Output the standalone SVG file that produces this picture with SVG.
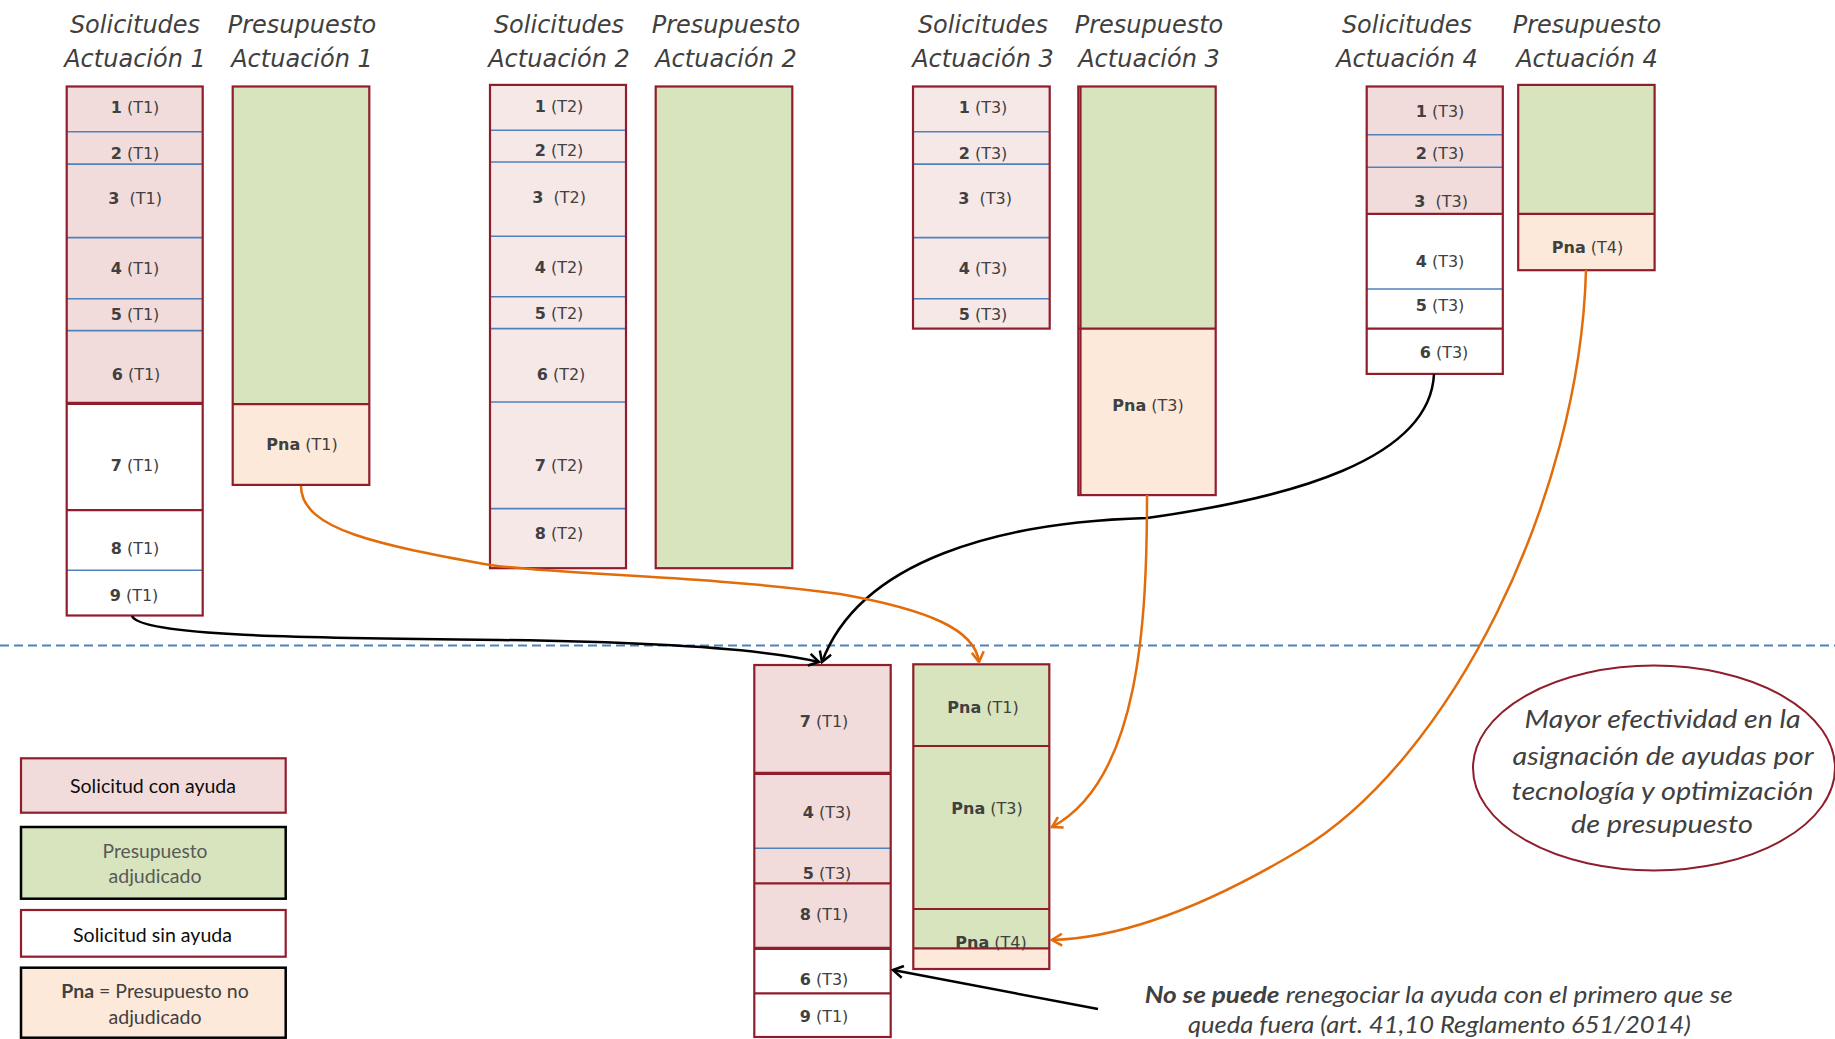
<svg xmlns="http://www.w3.org/2000/svg" width="1835" height="1039" viewBox="0 0 1835 1039">
<style>
.hdr{font-family:"DejaVu Sans",sans-serif;font-style:italic;font-size:24px;fill:#404040;text-anchor:middle}
.lbl{font-family:"DejaVu Sans",sans-serif;font-size:16px;fill:#404040;text-anchor:middle;white-space:pre}
.b{font-weight:bold}
.box{fill:none;stroke:#8f1d2c;stroke-width:2.2}
.pk{fill:#f2dcdb}
.lp{fill:#f7e8e8}
.gr{fill:#d7e4bd}
.pe{fill:#fde9d9}
.wh{fill:#ffffff}
.bl{stroke:#4f81bd;stroke-width:1.6}
.dr{stroke:#8f1d2c;stroke-width:2.2}
.drt{stroke:#8f1d2c;stroke-width:3.2}
.leg{font-family:Lato,"Liberation Sans",sans-serif;font-size:19.5px;text-anchor:middle}
.ell{font-family:Lato,"Liberation Sans",sans-serif;font-style:italic;font-size:25px;fill:#404040;text-anchor:middle}
.note{font-family:Lato,"Liberation Sans",sans-serif;font-style:italic;font-size:23px;fill:#404040;text-anchor:middle}
.cb{fill:none;stroke:#000;stroke-width:2.5}
.co{fill:none;stroke:#e36c0a;stroke-width:2.5}
</style>
<defs>
<marker id="ab" markerUnits="userSpaceOnUse" viewBox="0 0 14 14" markerWidth="14" markerHeight="14" refX="12" refY="7" orient="auto">
<path d="M2,1 L12,7 L2,13" fill="none" stroke="#000" stroke-width="2.5"/>
</marker>
<marker id="ao" markerUnits="userSpaceOnUse" viewBox="0 0 14 14" markerWidth="14" markerHeight="14" refX="12" refY="7" orient="auto">
<path d="M2,1 L12,7 L2,13" fill="none" stroke="#e36c0a" stroke-width="2.5"/>
</marker>
</defs>
<rect width="1835" height="1039" fill="#ffffff"/>

<g id="headers">
<text class="hdr" x="135" y="33">Solicitudes</text><text class="hdr" x="135" y="67">Actuación 1</text>
<text class="hdr" x="302" y="33">Presupuesto</text><text class="hdr" x="302" y="67">Actuación 1</text>
<text class="hdr" x="559" y="33">Solicitudes</text><text class="hdr" x="559" y="67">Actuación 2</text>
<text class="hdr" x="726" y="33">Presupuesto</text><text class="hdr" x="726" y="67">Actuación 2</text>
<text class="hdr" x="983" y="33">Solicitudes</text><text class="hdr" x="983" y="67">Actuación 3</text>
<text class="hdr" x="1149" y="33">Presupuesto</text><text class="hdr" x="1149" y="67">Actuación 3</text>
<text class="hdr" x="1407" y="33">Solicitudes</text><text class="hdr" x="1407" y="67">Actuación 4</text>
<text class="hdr" x="1587" y="33">Presupuesto</text><text class="hdr" x="1587" y="67">Actuación 4</text>
</g>

<line x1="0" y1="645.5" x2="1835" y2="645.5" stroke="#4f81bd" stroke-width="2" stroke-dasharray="9 5"/>

<g id="sol1">
<rect class="pk" x="66.7" y="86.5" width="136" height="316.8"/>
<rect class="wh" x="66.7" y="403.3" width="136" height="212.2"/>
<line class="bl" x1="67" y1="131.8" x2="202" y2="131.8"/>
<line class="bl" x1="67" y1="164.1" x2="202" y2="164.1"/>
<line class="bl" x1="67" y1="237.6" x2="202" y2="237.6"/>
<line class="bl" x1="67" y1="298.8" x2="202" y2="298.8"/>
<line class="bl" x1="67" y1="330.6" x2="202" y2="330.6"/>
<line class="drt" x1="67" y1="403.3" x2="202" y2="403.3"/>
<line class="dr" x1="67" y1="510.2" x2="202" y2="510.2"/>
<line class="bl" x1="67" y1="570.2" x2="202" y2="570.2"/>
<rect class="box" x="66.7" y="86.5" width="136" height="529"/>
<text class="lbl" x="135" y="113"><tspan class="b">1</tspan> (T1)</text>
<text class="lbl" x="135" y="158.5"><tspan class="b">2</tspan> (T1)</text>
<text class="lbl" x="135" y="204" xml:space="preserve"><tspan class="b">3</tspan>  (T1)</text>
<text class="lbl" x="135" y="274"><tspan class="b">4</tspan> (T1)</text>
<text class="lbl" x="135" y="320"><tspan class="b">5</tspan> (T1)</text>
<text class="lbl" x="136" y="380"><tspan class="b">6</tspan> (T1)</text>
<text class="lbl" x="135" y="471"><tspan class="b">7</tspan> (T1)</text>
<text class="lbl" x="135" y="554"><tspan class="b">8</tspan> (T1)</text>
<text class="lbl" x="134" y="601"><tspan class="b">9</tspan> (T1)</text>
</g>

<g id="pres1">
<rect class="gr" x="232.7" y="86.5" width="136.6" height="317.6"/>
<rect class="pe" x="232.7" y="404.1" width="136.6" height="80.8"/>
<line class="dr" x1="233" y1="404.1" x2="369" y2="404.1"/>
<rect class="box" x="232.7" y="86.5" width="136.6" height="398.4"/>
<text class="lbl" x="302" y="449.5"><tspan class="b">Pna</tspan> (T1)</text>
</g>

<g id="sol2">
<rect class="lp" x="490" y="84.9" width="136" height="483.3"/>
<line class="bl" x1="490" y1="130.2" x2="626" y2="130.2"/>
<line class="bl" x1="490" y1="162" x2="626" y2="162"/>
<line class="bl" x1="490" y1="236.3" x2="626" y2="236.3"/>
<line class="bl" x1="490" y1="296.7" x2="626" y2="296.7"/>
<line class="bl" x1="490" y1="328.6" x2="626" y2="328.6"/>
<line class="bl" x1="490" y1="402" x2="626" y2="402"/>
<line class="bl" x1="490" y1="508.6" x2="626" y2="508.6"/>
<rect class="box" x="490" y="84.9" width="136" height="483.3"/>
<text class="lbl" x="559" y="112"><tspan class="b">1</tspan> (T2)</text>
<text class="lbl" x="559" y="156"><tspan class="b">2</tspan> (T2)</text>
<text class="lbl" x="559" y="202.5" xml:space="preserve"><tspan class="b">3</tspan>  (T2)</text>
<text class="lbl" x="559" y="273"><tspan class="b">4</tspan> (T2)</text>
<text class="lbl" x="559" y="318.5"><tspan class="b">5</tspan> (T2)</text>
<text class="lbl" x="561" y="379.5"><tspan class="b">6</tspan> (T2)</text>
<text class="lbl" x="559" y="470.5"><tspan class="b">7</tspan> (T2)</text>
<text class="lbl" x="559" y="539"><tspan class="b">8</tspan> (T2)</text>
</g>

<g id="pres2">
<rect class="gr" x="655.7" y="86.5" width="136.6" height="481.7"/>
<rect class="box" x="655.7" y="86.5" width="136.6" height="481.7"/>
</g>

<g id="sol3">
<rect class="lp" x="913" y="86.5" width="136.7" height="242.1"/>
<line class="bl" x1="913" y1="131.8" x2="1049.7" y2="131.8"/>
<line class="bl" x1="913" y1="164.1" x2="1049.7" y2="164.1"/>
<line class="bl" x1="913" y1="237.6" x2="1049.7" y2="237.6"/>
<line class="bl" x1="913" y1="298.8" x2="1049.7" y2="298.8"/>
<rect class="box" x="913" y="86.5" width="136.7" height="242.1"/>
<text class="lbl" x="983" y="113"><tspan class="b">1</tspan> (T3)</text>
<text class="lbl" x="983" y="158.5"><tspan class="b">2</tspan> (T3)</text>
<text class="lbl" x="985" y="204" xml:space="preserve"><tspan class="b">3</tspan>  (T3)</text>
<text class="lbl" x="983" y="274"><tspan class="b">4</tspan> (T3)</text>
<text class="lbl" x="983" y="320"><tspan class="b">5</tspan> (T3)</text>
</g>

<g id="pres3">
<rect class="gr" x="1078.3" y="86.5" width="137.4" height="242.1"/>
<rect class="pe" x="1078.3" y="328.6" width="137.4" height="166.5"/>
<line class="dr" x1="1078.3" y1="328.6" x2="1215.7" y2="328.6"/>
<rect class="box" x="1078.3" y="86.5" width="137.4" height="408.6"/>
<line class="dr" x1="1080.5" y1="87" x2="1080.5" y2="494.5"/>
<text class="lbl" x="1148" y="411"><tspan class="b">Pna</tspan> (T3)</text>
</g>

<g id="sol4">
<rect class="pk" x="1366.7" y="86.5" width="136.1" height="127.4"/>
<rect class="wh" x="1366.7" y="213.9" width="136.1" height="160"/>
<line class="bl" x1="1367" y1="134.7" x2="1502.5" y2="134.7"/>
<line class="bl" x1="1367" y1="167.3" x2="1502.5" y2="167.3"/>
<line class="dr" x1="1367" y1="213.9" x2="1502.5" y2="213.9"/>
<line class="bl" x1="1367" y1="289" x2="1502.5" y2="289"/>
<line class="dr" x1="1367" y1="328.6" x2="1502.5" y2="328.6"/>
<rect class="box" x="1366.7" y="86.5" width="136.1" height="287.4"/>
<text class="lbl" x="1440" y="117"><tspan class="b">1</tspan> (T3)</text>
<text class="lbl" x="1440" y="158.5"><tspan class="b">2</tspan> (T3)</text>
<text class="lbl" x="1441" y="207" xml:space="preserve"><tspan class="b">3</tspan>  (T3)</text>
<text class="lbl" x="1440" y="267"><tspan class="b">4</tspan> (T3)</text>
<text class="lbl" x="1440" y="311"><tspan class="b">5</tspan> (T3)</text>
<text class="lbl" x="1444" y="358"><tspan class="b">6</tspan> (T3)</text>
</g>

<g id="pres4">
<rect class="gr" x="1518.2" y="84.9" width="136.4" height="129"/>
<rect class="pe" x="1518.2" y="213.9" width="136.4" height="56.3"/>
<line class="dr" x1="1518.2" y1="213.9" x2="1654.6" y2="213.9"/>
<rect class="box" x="1518.2" y="84.9" width="136.4" height="185.3"/>
<text class="lbl" x="1587.5" y="252.5"><tspan class="b">Pna</tspan> (T4)</text>
</g>

<g id="sol-result">
<rect class="pk" x="754.3" y="665" width="136.4" height="283.3"/>
<rect class="wh" x="754.3" y="948.3" width="136.4" height="88.7"/>
<line class="drt" x1="754.3" y1="773.3" x2="890.7" y2="773.3"/>
<line class="bl" x1="755" y1="848.3" x2="890" y2="848.3"/>
<line class="dr" x1="754.3" y1="883.3" x2="890.7" y2="883.3"/>
<line class="drt" x1="754.3" y1="948.3" x2="890.7" y2="948.3"/>
<line class="dr" x1="754.3" y1="993.3" x2="890.7" y2="993.3"/>
<rect class="box" x="754.3" y="665" width="136.4" height="372"/>
<text class="lbl" x="824" y="727"><tspan class="b">7</tspan> (T1)</text>
<text class="lbl" x="827" y="818"><tspan class="b">4</tspan> (T3)</text>
<text class="lbl" x="827" y="878.5"><tspan class="b">5</tspan> (T3)</text>
<text class="lbl" x="824" y="919.5"><tspan class="b">8</tspan> (T1)</text>
<text class="lbl" x="824" y="984.5"><tspan class="b">6</tspan> (T3)</text>
<text class="lbl" x="824" y="1022"><tspan class="b">9</tspan> (T1)</text>
</g>

<g id="pres-result">
<rect class="gr" x="913.3" y="664.3" width="136" height="284"/>
<rect class="pe" x="913.3" y="948.3" width="136" height="20.7"/>
<line class="dr" x1="913.3" y1="746" x2="1049.3" y2="746"/>
<line class="dr" x1="913.3" y1="909" x2="1049.3" y2="909"/>
<line class="dr" x1="913.3" y1="948.3" x2="1049.3" y2="948.3"/>
<rect class="box" x="913.3" y="664.3" width="136" height="304.7"/>
<text class="lbl" x="983" y="713"><tspan class="b">Pna</tspan> (T1)</text>
<text class="lbl" x="987" y="814"><tspan class="b">Pna</tspan> (T3)</text>
<text class="lbl" x="991" y="947.5"><tspan class="b">Pna</tspan> (T4)</text>
</g>

<g id="connectors">
<path class="cb" d="M132,616 C140,636 300,638 500,640 C650,642 760,648 819,662" marker-end="url(#ab)"/>
<path class="cb" d="M1434,374 C1430,460 1290,498 1147,518 C1000,522 860,560 822,662" marker-end="url(#ab)"/>
<path class="co" d="M301,486 C301,530 380,545 490,565 C560,575 700,575 840,594 C930,610 975,630 979,662" marker-end="url(#ao)"/>
<path class="co" d="M1147,495 C1147,620 1140,780 1052,827" marker-end="url(#ao)"/>
<path class="co" d="M1586,270 C1580,500 1450,760 1300,850 C1200,910 1120,938 1052,940" marker-end="url(#ao)"/>
<path class="cb" d="M1098,1009 L893,970" marker-end="url(#ab)"/>
</g>

<g id="legend">
<g id="leg-con">
<rect x="21" y="758.3" width="264.7" height="54.4" fill="#f2dcdb" stroke="#8f1d2c" stroke-width="2.2"/>
<text class="leg" x="153" y="793.3" fill="#0d0d0d" textLength="166" lengthAdjust="spacingAndGlyphs">Solicitud con ayuda</text>
</g>
<g id="leg-adj">
<rect x="21" y="827" width="264.7" height="71.7" fill="#d7e4bd" stroke="#000" stroke-width="2.5"/>
<text class="leg" x="155" y="858.3" fill="#595959" textLength="105" lengthAdjust="spacingAndGlyphs">Presupuesto</text>
<text class="leg" x="155" y="883.3" fill="#595959" textLength="93" lengthAdjust="spacingAndGlyphs">adjudicado</text>
</g>
<g id="leg-sin">
<rect x="21" y="910" width="264.7" height="46.7" fill="#ffffff" stroke="#8f1d2c" stroke-width="2.2"/>
<text class="leg" x="152.5" y="941.5" fill="#0d0d0d" textLength="159" lengthAdjust="spacingAndGlyphs">Solicitud sin ayuda</text>
</g>
<g id="leg-pna">
<rect x="21" y="967.7" width="264.7" height="70" fill="#fde9d9" stroke="#000" stroke-width="2.5"/>
<text class="leg" x="155" y="998.3" fill="#404040" textLength="187.5" lengthAdjust="spacingAndGlyphs"><tspan font-weight="bold">Pna</tspan> = Presupuesto no</text>
<text class="leg" x="155" y="1024" fill="#404040" textLength="93" lengthAdjust="spacingAndGlyphs">adjudicado</text>
</g>
</g>

<g id="ellipse-note">
<ellipse cx="1654" cy="768" rx="181" ry="102.5" fill="none" stroke="#8f1d2c" stroke-width="2"/>
<text class="ell" x="1662.5" y="728.3" textLength="276" lengthAdjust="spacingAndGlyphs">Mayor efectividad en la</text>
<text class="ell" x="1663" y="765" textLength="301" lengthAdjust="spacingAndGlyphs">asignación de ayudas por</text>
<text class="ell" x="1662.5" y="800" textLength="302" lengthAdjust="spacingAndGlyphs">tecnología y optimización</text>
<text class="ell" x="1662" y="833.3" textLength="182" lengthAdjust="spacingAndGlyphs">de presupuesto</text>
</g>

<g id="bottom-note">
<text class="note" x="1438.7" y="1003.3" textLength="588" lengthAdjust="spacingAndGlyphs"><tspan font-weight="bold">No se puede</tspan> renegociar la ayuda con el primero que se</text>
<text class="note" x="1439.4" y="1032.7" textLength="503" lengthAdjust="spacingAndGlyphs">queda fuera (art. 41,10 Reglamento 651/2014)</text>
</g>
</svg>
